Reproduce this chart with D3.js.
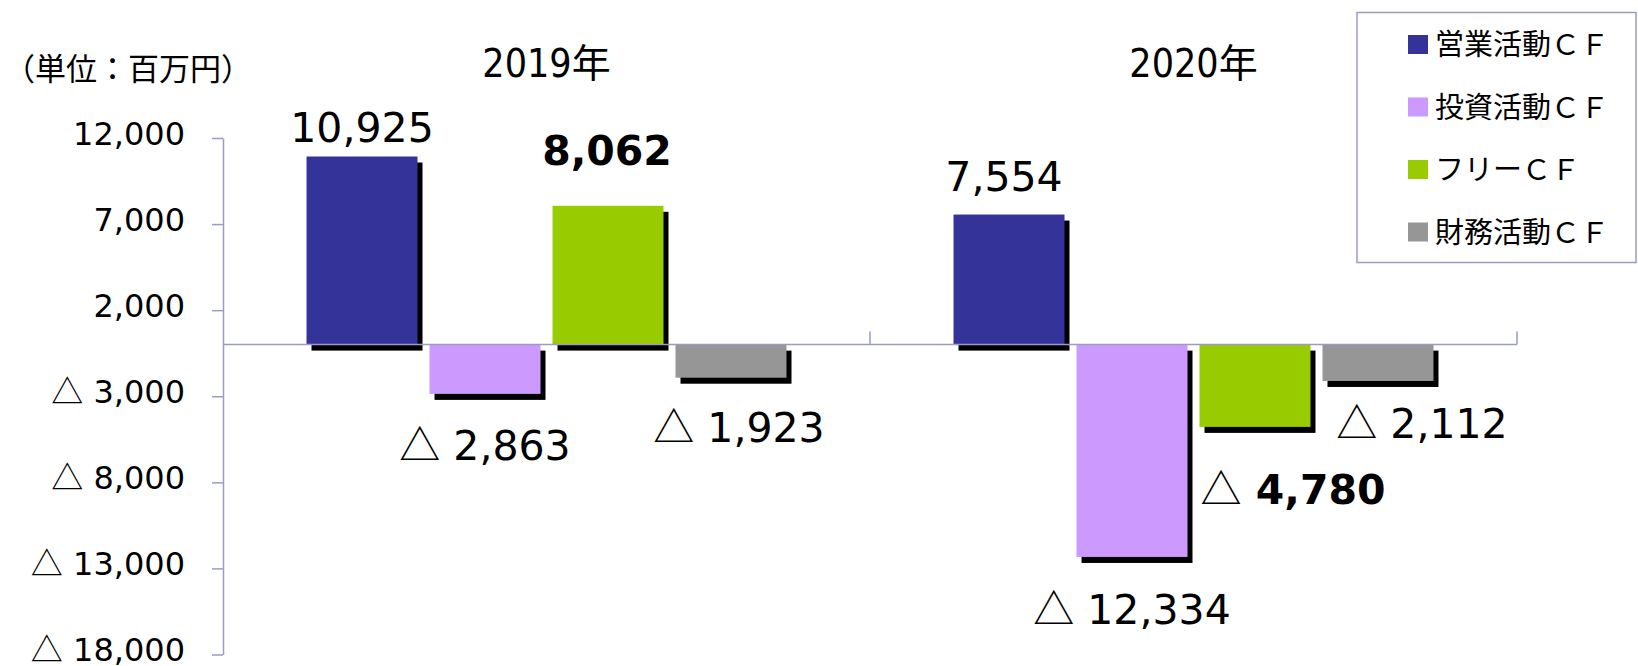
<!DOCTYPE html>
<html>
<head>
<meta charset="utf-8">
<script src="https://cdn.jsdelivr.net/npm/d3@7"></script>
<style>
  html, body { margin: 0; padding: 0; background: #fff; }
  svg { display: block; }
  text { white-space: pre; }
</style>
</head>
<body>
<div id="chart"></div>
<script>
// data (百万円)
var years = ["2019年", "2020年"];
var series = ["営業活動ＣＦ", "投資活動ＣＦ", "フリーＣＦ", "財務活動ＣＦ"];
var seriesColors = ["#333399", "#cc99ff", "#99cc00", "#969696"];
var values2019 = [10925, -2863, 8062, -1923];
var values2020 = [7554, -12334, -4780, -2112];
var boldSeries = ["フリーＣＦ"];
var yTicks = [12000, 7000, 2000, -3000, -8000, -13000, -18000];

// hand placed label nudges (px from bar end), as in the original slide
var labelDx2019 = [0, 0, -1, 8];
var labelDy2019 = [-15, 66, -41, 64];
var labelDx2020 = [-5, 0, 38, 44];
var labelDy2020 = [-24, 67, 77, 57];

var width = 1638, height = 666;
var latin = "'DejaVu Sans', Verdana, sans-serif";
var cjk = "'Noto Sans CJK JP', 'Noto Sans', sans-serif";
var axisColor = "#9a9acb";

var data = years.map(function(y, i) {
  var vals = i == 0 ? values2019 : values2020;
  var dx = i == 0 ? labelDx2019 : labelDx2020;
  var dy = i == 0 ? labelDy2019 : labelDy2020;
  return series.map(function(s, j) {
    return { year: y, series: s, value: vals[j], color: seriesColors[j], dx: dx[j], dy: dy[j] };
  });
});

var svg = d3.select("#chart").append("svg")
  .attr("width", width)
  .attr("height", height);

var yScale = d3.scaleLinear()
  .domain([-18000, 12000])
  .range([654.5, 138]);

var xScale = d3.scaleBand()
  .domain(years)
  .range([223, 1517])
  .padding(0);

var xSub = d3.scaleBand()
  .domain(series)
  .range([0, xScale.bandwidth()])
  .paddingInner(0.0976)
  .paddingOuter(0.679);

var fmt = d3.format(",");

// shadows, then bars
var groups = svg.selectAll(".group")
  .data(data)
  .enter().append("g")
  .attr("class", "group")
  .attr("transform", function(d) { return "translate(" + xScale(d[0].year) + ",0)"; });

groups.selectAll(".shadow")
  .data(function(d) { return d; })
  .enter().append("rect")
  .attr("class", "shadow")
  .attr("x", function(d) { return xSub(d.series) + 5; })
  .attr("y", function(d) { return Math.min(yScale(d.value), yScale(0)) + 6; })
  .attr("width", xSub.bandwidth())
  .attr("height", function(d) { return Math.abs(yScale(d.value) - yScale(0)); })
  .style("fill", "#000");

groups.selectAll(".bar")
  .data(function(d) { return d; })
  .enter().append("rect")
  .attr("class", "bar")
  .attr("x", function(d) { return xSub(d.series); })
  .attr("y", function(d) { return Math.min(yScale(d.value), yScale(0)); })
  .attr("width", xSub.bandwidth())
  .attr("height", function(d) { return Math.abs(yScale(d.value) - yScale(0)); })
  .style("fill", function(d) { return d.color; });

// value labels
groups.selectAll(".label")
  .data(function(d) { return d; })
  .enter().append("text")
  .attr("class", "label")
  .attr("x", function(d) { return xSub(d.series) + xSub.bandwidth() / 2 + d.dx; })
  .attr("y", function(d) { return yScale(d.value) + d.dy; })
  .attr("text-anchor", "middle")
  .style("font-family", latin)
  .style("font-size", "41px")
  .style("font-weight", function(d) { return boldSeries.includes(d.series) ? "bold" : "normal"; })
  .style("fill", "#000")
  .each(function(d) {
    var t = d3.select(this);
    if (d.value < 0) {
      t.append("tspan").style("font-family", cjk).style("font-weight", "normal").text("△");
      t.append("tspan").text(" " + fmt(-d.value));
    } else {
      t.text(fmt(d.value));
    }
  });

// y axis
var yAxis = d3.axisLeft(yScale)
  .tickValues(yTicks)
  .tickSizeInner(11)
  .tickSizeOuter(0)
  .tickPadding(27);

var gy = svg.append("g")
  .attr("class", "y axis")
  .attr("transform", "translate(223,0)")
  .style("color", axisColor)
  .call(yAxis);

gy.select(".domain").attr("stroke-width", 1.5);
gy.selectAll(".tick line").attr("stroke-width", 1.5);
gy.selectAll(".tick text")
  .attr("dy", "6")
  .style("fill", "#000")
  .style("font-family", latin)
  .style("font-size", "32px")
  .each(function(d) {
    var t = d3.select(this);
    t.text(null);
    if (d < 0) {
      t.append("tspan").style("font-family", cjk).text("△");
      t.append("tspan").text(" " + fmt(-d));
    } else {
      t.text(fmt(d));
    }
  });

// category axis on the zero line
var gx = svg.append("g").attr("class", "x axis");
gx.append("line")
  .attr("x1", xScale.range()[0])
  .attr("x2", xScale.range()[1])
  .attr("y1", yScale(0))
  .attr("y2", yScale(0))
  .attr("stroke", axisColor)
  .attr("stroke-width", 1.5);
gx.selectAll(".cat-tick")
  .data(years)
  .enter().append("line")
  .attr("class", "cat-tick")
  .attr("x1", function(d) { return xScale(d) + xScale.bandwidth(); })
  .attr("x2", function(d) { return xScale(d) + xScale.bandwidth(); })
  .attr("y1", yScale(0))
  .attr("y2", yScale(0) - 13)
  .attr("stroke", axisColor)
  .attr("stroke-width", 1.5);

// year titles
svg.selectAll(".year")
  .data(years)
  .enter().append("text")
  .attr("class", "year")
  .attr("x", function(d) { return xScale(d) + xScale.bandwidth() / 2; })
  .attr("y", 77)
  .attr("text-anchor", "middle")
  .style("font-family", "'DejaVu Sans Condensed', " + latin)
  .style("font-stretch", "condensed")
  .style("font-size", "39px")
  .style("fill", "#000")
  .each(function(d) {
    var t = d3.select(this);
    t.append("tspan").text(d.replace("年", ""));
    t.append("tspan").style("font-family", cjk).text("年");
  });

// unit
svg.append("text")
  .attr("x", 128)
  .attr("y", 66)
  .attr("text-anchor", "middle")
  .attr("dominant-baseline", "central")
  .style("font-family", cjk)
  .style("font-size", "31px")
  .style("fill", "#000")
  .text("（単位：百万円）");

// legend
var legend = svg.append("g").attr("class", "legend");
legend.append("rect")
  .attr("x", 1357)
  .attr("y", 12.5)
  .attr("width", 279)
  .attr("height", 250)
  .style("fill", "none")
  .style("stroke", axisColor)
  .style("stroke-width", 1.5);

var items = legend.selectAll(".item")
  .data(series)
  .enter().append("g")
  .attr("class", "item")
  .attr("transform", function(d, i) { return "translate(1408," + (35 + i * 62.5) + ")"; });

items.append("rect")
  .attr("width", 20)
  .attr("height", 19)
  .style("fill", function(d, i) { return seriesColors[i]; });

items.append("text")
  .attr("x", 27)
  .attr("y", 7)
  .attr("dominant-baseline", "central")
  .style("font-family", cjk)
  .style("font-size", "29px")
  .style("fill", "#000")
  .text(function(d) { return d; });
</script>
</body>
</html>
